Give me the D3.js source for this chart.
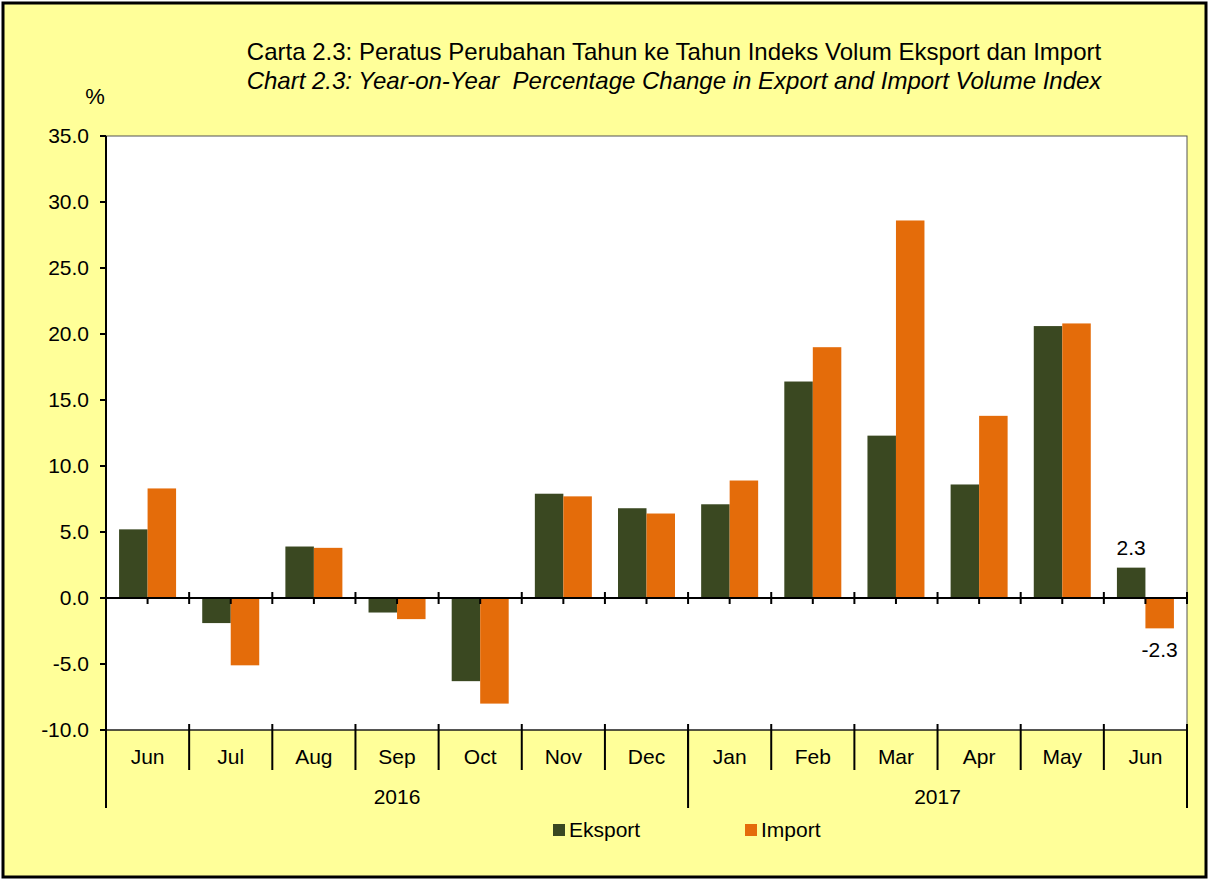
<!DOCTYPE html>
<html>
<head>
<meta charset="utf-8">
<script src="https://cdn.jsdelivr.net/npm/d3@7"></script>
<style>
  body { margin: 0; background: #fff; }
  svg { display: block; font-family: "Liberation Sans", Arial, sans-serif; }
</style>
</head>
<body>
<svg></svg>
<script>
var months = ["Jun", "Jul", "Aug", "Sep", "Oct", "Nov", "Dec", "Jan", "Feb", "Mar", "Apr", "May", "Jun"];
var years = [{ label: "2016", from: 0, to: 7 }, { label: "2017", from: 7, to: 13 }];
var eksport = [5.2, -1.9, 3.9, -1.1, -6.3, 7.9, 6.8, 7.1, 16.4, 12.3, 8.6, 20.6, 2.3];
var importV = [8.3, -5.1, 3.8, -1.6, -8.0, 7.7, 6.4, 8.9, 19.0, 28.6, 13.8, 20.8, -2.3];
var yTicks = [-10, -5, 0, 5, 10, 15, 20, 25, 30, 35];

var width = 1210, height = 881;
var pLeft = 106, pRight = 1187, pTop = 136, pBottom = 730;

var svg = d3.select("svg").attr("width", width).attr("height", height);

svg.append("rect").attr("x", 3).attr("y", 3).attr("width", 1203).attr("height", 874)
  .attr("fill", "#FFFF99").attr("stroke", "#000").attr("stroke-width", 3);

svg.append("rect").attr("x", pLeft).attr("y", pTop).attr("width", pRight - pLeft).attr("height", pBottom - pTop)
  .attr("fill", "#fff").attr("stroke", "#555").attr("stroke-width", 1);

var idx = d3.range(months.length);
var x = d3.scaleBand().domain(idx).range([pLeft, pRight]).paddingInner(0).paddingOuter(0);
var y = d3.scaleLinear().domain([-10, 35]).range([pBottom, pTop]);
var bw = 28.5;

// bars
var g = svg.append("g");
g.selectAll("rect.eks").data(eksport).enter().append("rect")
  .attr("x", function(d, i) { return x(i) + x.bandwidth() / 2 - bw; })
  .attr("y", function(d) { return y(Math.max(0, d)); })
  .attr("width", bw)
  .attr("height", function(d) { return Math.abs(y(d) - y(0)); })
  .attr("fill", "#3A4821");
g.selectAll("rect.imp").data(importV).enter().append("rect")
  .attr("x", function(d, i) { return x(i) + x.bandwidth() / 2; })
  .attr("y", function(d) { return y(Math.max(0, d)); })
  .attr("width", bw)
  .attr("height", function(d) { return Math.abs(y(d) - y(0)); })
  .attr("fill", "#E46C0A");

// y axis
svg.append("line").attr("x1", pLeft).attr("x2", pLeft).attr("y1", pTop).attr("y2", 808)
  .attr("stroke", "#000").attr("stroke-width", 2);
svg.selectAll("line.yt").data(yTicks).enter().append("line")
  .attr("x1", pLeft - 6).attr("x2", pLeft).attr("y1", function(d) { return y(d); }).attr("y2", function(d) { return y(d); })
  .attr("stroke", "#000").attr("stroke-width", 2);
svg.selectAll("text.yl").data(yTicks).enter().append("text")
  .attr("x", 89).attr("y", function(d) { return y(d) + 7; })
  .attr("text-anchor", "end").attr("font-size", 21).text(function(d) { return d.toFixed(1); });

// zero line and ticks
svg.append("line").attr("x1", pLeft).attr("x2", pRight).attr("y1", y(0)).attr("y2", y(0))
  .attr("stroke", "#000").attr("stroke-width", 2);
var bounds = d3.range(months.length + 1).map(function(i) { return pLeft + i * x.step(); });
svg.selectAll("line.zb").data(bounds).enter().append("line")
  .attr("x1", function(d) { return d; }).attr("x2", function(d) { return d; })
  .attr("y1", y(0) - 6).attr("y2", y(0) + 6).attr("stroke", "#000").attr("stroke-width", 2);
svg.selectAll("line.zc").data(idx).enter().append("line")
  .attr("x1", function(i) { return x(i) + x.bandwidth() / 2; }).attr("x2", function(i) { return x(i) + x.bandwidth() / 2; })
  .attr("y1", y(0)).attr("y2", y(0) + 6).attr("stroke", "#000").attr("stroke-width", 2);

// bottom category ticks
svg.append("line").attr("x1", pLeft).attr("x2", pRight).attr("y1", pBottom).attr("y2", pBottom)
  .attr("stroke", "#000").attr("stroke-width", 1);
svg.selectAll("line.bb").data(bounds).enter().append("line")
  .attr("x1", function(d) { return d; }).attr("x2", function(d) { return d; })
  .attr("y1", pBottom - 6).attr("y2", pBottom + 40).attr("stroke", "#000").attr("stroke-width", 2);
var yb = [pLeft + 7 * x.step(), pRight];
svg.selectAll("line.yb").data(yb).enter().append("line")
  .attr("x1", function(d) { return d; }).attr("x2", function(d) { return d; })
  .attr("y1", pBottom).attr("y2", 808).attr("stroke", "#000").attr("stroke-width", 2);

svg.selectAll("text.ml").data(months).enter().append("text")
  .attr("x", function(d, i) { return x(i) + x.bandwidth() / 2; }).attr("y", 764)
  .attr("text-anchor", "middle").attr("font-size", 21).text(function(d) { return d; });
svg.selectAll("text.yr").data(years).enter().append("text")
  .attr("x", function(d) { return (pLeft + d.from * x.step() + pLeft + d.to * x.step()) / 2; }).attr("y", 804)
  .attr("text-anchor", "middle").attr("font-size", 21).text(function(d) { return d.label; });

// data labels for the last month
var last = months.length - 1;
svg.append("text").attr("x", x(last) + x.bandwidth() / 2 - bw / 2).attr("y", y(eksport[last]) - 13)
  .attr("text-anchor", "middle").attr("font-size", 21).text(eksport[last].toFixed(1));
svg.append("text").attr("x", x(last) + x.bandwidth() / 2 + bw / 2).attr("y", y(importV[last]) + 29)
  .attr("text-anchor", "middle").attr("font-size", 21).text(importV[last].toFixed(1));

// titles
svg.append("text").attr("x", 674).attr("y", 60).attr("text-anchor", "middle").attr("font-size", 24)
  .text("Carta 2.3: Peratus Perubahan Tahun ke Tahun Indeks Volum Eksport dan Import");
svg.append("text").attr("x", 674).attr("y", 89).attr("text-anchor", "middle").attr("font-size", 24)
  .attr("font-style", "italic").attr("xml:space", "preserve")
  .text("Chart 2.3: Year-on-Year  Percentage Change in Export and Import Volume Index");
svg.append("text").attr("x", 95).attr("y", 104).attr("text-anchor", "middle").attr("font-size", 22).text("%");

// legend
var legend = [{ name: "Eksport", color: "#3A4821", x: 553 }, { name: "Import", color: "#E46C0A", x: 745 }];
var lg = svg.selectAll("g.lg").data(legend).enter().append("g");
lg.append("rect").attr("x", function(d) { return d.x; }).attr("y", 824).attr("width", 12).attr("height", 12)
  .attr("fill", function(d) { return d.color; });
lg.append("text").attr("x", function(d) { return d.x + 16; }).attr("y", 837).attr("font-size", 21)
  .text(function(d) { return d.name; });
</script>
</body>
</html>
